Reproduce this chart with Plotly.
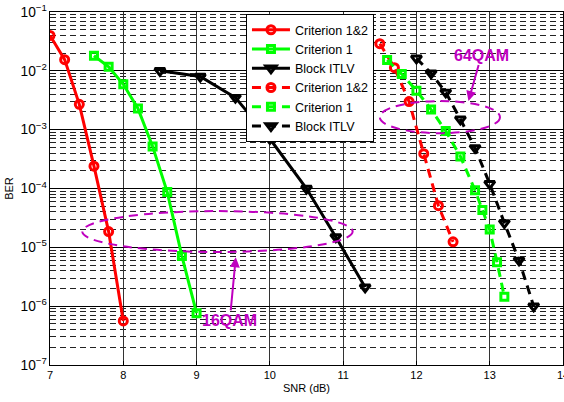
import plotly.graph_objects as go

# ---------------- data ----------------
snr_16_c12 = [7.0, 7.2, 7.4, 7.6, 7.8, 8.0]
ber_16_c12 = [4.0e-2, 1.55e-2, 2.7e-3, 2.4e-4, 1.85e-5, 5.6e-7]

snr_16_c1 = [7.6, 7.8, 8.0, 8.2, 8.4, 8.6, 8.8, 9.0]
ber_16_c1 = [1.8e-2, 1.17e-2, 5.9e-3, 2.3e-3, 5.2e-4, 8.7e-5, 7.1e-6, 7.6e-7]

snr_16_blk = [8.5, 9.05, 9.53, 10.0, 10.5, 10.9, 11.3]
ber_16_blk = [1.0e-2, 8.0e-3, 3.5e-3, 7.0e-4, 1.0e-4, 1.5e-5, 2.1e-6]

snr_64_c12 = [11.5, 11.7, 11.9, 12.1, 12.3, 12.5]
ber_64_c12 = [2.9e-2, 1.13e-2, 3.0e-3, 3.9e-4, 5.1e-5, 1.24e-5]

snr_64_c1 = [11.6, 11.8, 12.0, 12.2, 12.4, 12.6, 12.8, 12.9, 13.0, 13.1, 13.2]
ber_64_c1 = [1.53e-2, 8.8e-3, 4.6e-3, 2.2e-3, 9.5e-4, 3.5e-4, 9.3e-5, 4.3e-5, 2.0e-5, 5.6e-6, 1.45e-6]

snr_64_blk = [12.0, 12.2, 12.4, 12.6, 12.8, 13.0, 13.2, 13.4, 13.6]
ber_64_blk = [1.63e-2, 9.1e-3, 4.3e-3, 1.5e-3, 4.9e-4, 1.2e-4, 2.6e-5, 6.0e-6, 1.0e-6]

names = ["Criterion 1&2", "Criterion 1", "Block ITLV"]
x_ticks = [7, 8, 9, 10, 11, 12, 13, 14]

RED = "#FF0000"
GREEN = "#00FF00"
BLACK = "#000000"
MAG = "#BF00BF"
FONT = "Liberation Sans, Arial, sans-serif"

fig = go.Figure()

series = [
    (snr_16_c12, ber_16_c12, names[0], RED, "circle-open", 8, "solid"),
    (snr_16_c1, ber_16_c1, names[1], GREEN, "square-open", 7, "solid"),
    (snr_16_blk, ber_16_blk, names[2], BLACK, "triangle-down-open", 9, "solid"),
    (snr_64_c12, ber_64_c12, names[0], RED, "circle-open", 8, "9px,6px"),
    (snr_64_c1, ber_64_c1, names[1], GREEN, "square-open", 7, "9px,6px"),
    (snr_64_blk, ber_64_blk, names[2], BLACK, "triangle-down-open", 9, "9px,6px"),
]
for xs, ys, nm, col, sym, sz, dash in series:
    fig.add_trace(go.Scatter(
        x=xs, y=ys, name=nm, mode="lines+markers",
        line=dict(color=col, width=3, dash=dash),
        marker=dict(symbol=sym, size=sz, color=col, line=dict(width=3, color=col)),
    ))

# ellipses (annotation marks)
def ypap(logv):
    return (logv + 7) / 6.0

fig.add_shape(type="circle", xref="x", yref="paper",
              x0=7.44, x1=11.13, y0=ypap(-5.08), y1=ypap(-4.384),
              line=dict(color=MAG, width=2, dash="9px,6px"))
fig.add_shape(type="circle", xref="x", yref="paper",
              x0=11.5, x1=13.14, y0=ypap(-3.06), y1=ypap(-2.514),
              line=dict(color=MAG, width=2, dash="9px,6px"))

fig.add_annotation(x=9.535, y=-5.17, xref="x", yref="y", text="<b>16QAM</b>",
                   showarrow=True, ax=-6, ay=63, arrowhead=2, arrowsize=1,
                   arrowwidth=2, arrowcolor=MAG, standoff=0,
                   font=dict(family=FONT, size=16, color=MAG))
fig.add_annotation(x=12.71, y=-2.514, xref="x", yref="y", text="<b>64QAM</b>",
                   showarrow=True, ax=13, ay=-46, arrowhead=2, arrowsize=1,
                   arrowwidth=2, arrowcolor=MAG, standoff=0,
                   font=dict(family=FONT, size=16, color=MAG))

fig.update_layout(
    width=564, height=402,
    margin=dict(l=50, r=1, t=12, b=37, autoexpand=False),
    paper_bgcolor="white", plot_bgcolor="white",
    font=dict(family=FONT, size=11, color="black"),
    showlegend=True,
    legend=dict(x=0.382, y=0.994, xanchor="left", yanchor="top",
                bgcolor="white", bordercolor="black", borderwidth=1,
                font=dict(family=FONT, size=12.5, color="black"),
                itemwidth=38, tracegroupgap=0),
)
fig.update_xaxes(
    range=[7, 14], tickvals=x_ticks, ticktext=[str(v) for v in x_ticks],
    ticklabeloverflow="allow", automargin=False,
    showgrid=True, gridcolor="#333333", gridwidth=1,
    showline=True, linecolor="black", linewidth=1, mirror=True,
    ticks="inside", ticklen=4, tickcolor="black",
    title=dict(text="SNR (dB)", font=dict(size=11), standoff=4),
    zeroline=False,
)
fig.update_yaxes(
    type="log", range=[-7, -1], dtick=1, exponentformat="power",
    automargin=False,
    showgrid=True, gridcolor="#000000", gridwidth=1,
    minor=dict(dtick="D1", showgrid=True, griddash="6px,4px",
               gridcolor="#222222", gridwidth=1, ticks=""),
    showline=True, linecolor="black", linewidth=1, mirror=True,
    ticks="inside", ticklen=4, tickcolor="black",
    title=dict(text="BER", font=dict(size=11), standoff=4),
    zeroline=False,
)

fig.write_html("out.html")
